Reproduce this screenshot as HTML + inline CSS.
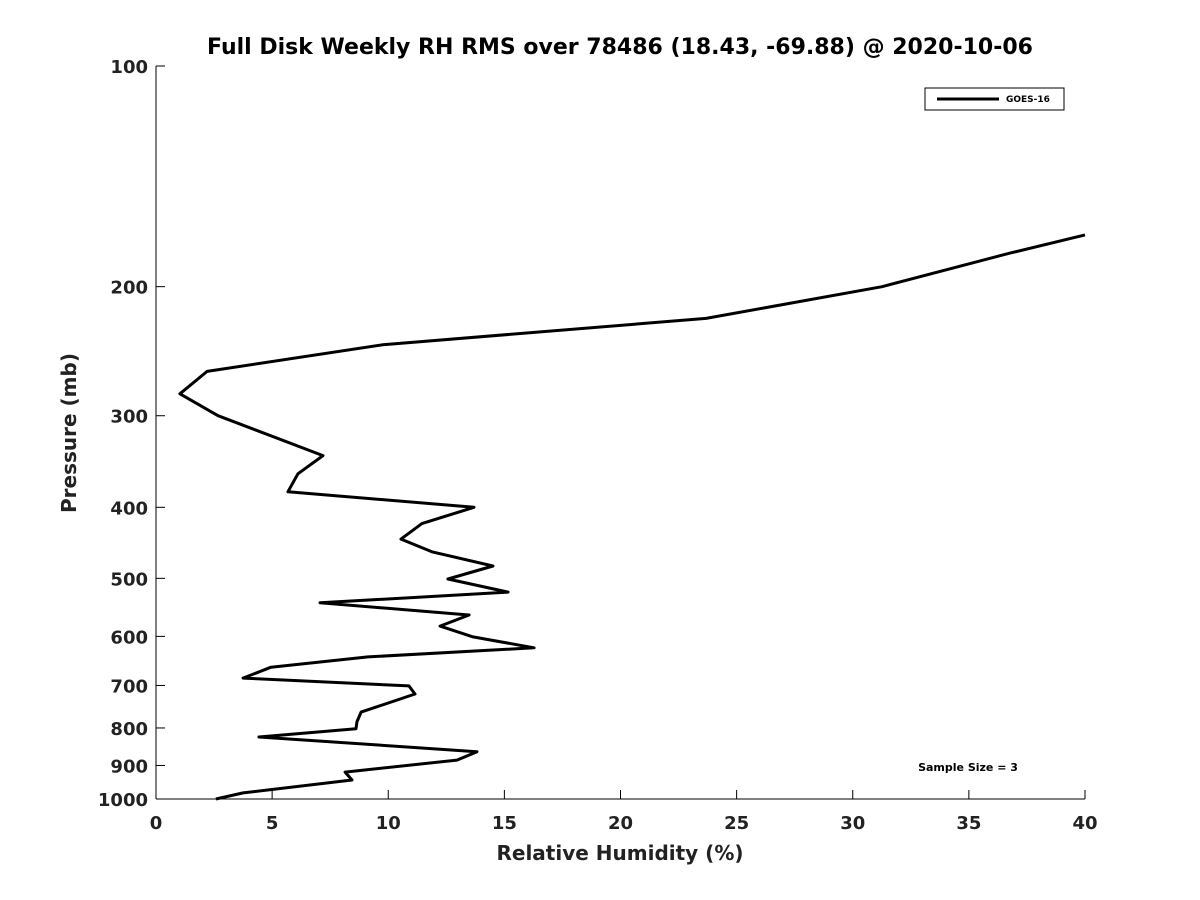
<!DOCTYPE html>
<html><head><meta charset="utf-8"><style>
body{margin:0;background:#fff;}
svg{display:block;font-family:"DejaVu Sans","Liberation Sans",sans-serif;}
</style></head><body>
<svg id="chart" width="1200" height="900">
<rect width="1200" height="900" fill="#fff"/>
<text x="620" y="54" text-anchor="middle" font-size="22" font-weight="bold" fill="#000">Full Disk Weekly RH RMS over 78486 (18.43, -69.88) @ 2020-10-06</text>
<g id="axes"></g>
<path id="series" fill="none" stroke="#000" stroke-width="3" stroke-linejoin="round"/>
<g>
<rect x="925" y="88" width="139" height="22" fill="#fff" stroke="#000" stroke-width="1"/>
<line x1="937" y1="99" x2="999" y2="99" stroke="#000" stroke-width="3"/>
<text x="1006" y="102" font-size="9" font-weight="bold">GOES-16</text>
</g>
<text x="968" y="771" text-anchor="middle" font-size="11" font-weight="bold">Sample Size = 3</text>
<text x="620" y="860" text-anchor="middle" font-size="20" font-weight="bold" fill="#222">Relative Humidity (%)</text>
<text transform="translate(76,433) rotate(-90)" text-anchor="middle" font-size="20" font-weight="bold" fill="#222">Pressure (mb)</text>
</svg>
<script>
const rhValues=[40,36.77,31.26,23.68,9.77,2.2,1.03,2.67,7.19,6.11,5.68,13.69,11.45,10.55,11.88,14.51,12.57,15.16,7.06,13.48,12.23,13.65,16.28,9.13,4.95,3.75,10.89,11.15,8.83,8.65,8.61,4.43,13.82,12.96,8.14,8.44,3.75,2.58];
const pressures=[170,180,200,221,240,261,280,300,340,360,381,400,421,442,460,481,501,522,540,561,581,601,622,640,661,684,701,719,761,785,802,823,862,885,919,942,981,1000];
const xTicks=[0,5,10,15,20,25,30,35,40];
const yTicks=[100,200,300,400,500,600,700,800,900,1000];
const X0=156,X1=1085,Y0=66,Y1=799;
const xs=v=>X0+(v-0)/40*(X1-X0);
const ys=p=>Y0+(Math.log10(p)-2)*(Y1-Y0);
const NS="http://www.w3.org/2000/svg";
const ax=document.getElementById('axes');
function mk(t,a){const e=document.createElementNS(NS,t);for(const k in a)e.setAttribute(k,a[k]);ax.appendChild(e);return e;}
const yl=mk('line',{x1:X0,y1:Y0,x2:X0,y2:Y1,stroke:'#000','stroke-width':1});


const xl=mk('line',{x1:X0,y1:Y1,x2:X1,y2:Y1,stroke:'#000','stroke-width':1});


xTicks.forEach(v=>{const x=xs(v);
mk('line',{x1:x,y1:Y1,x2:x,y2:Y1-9,stroke:'#000'});
const t=mk('text',{x:x,y:Y1+30,'text-anchor':'middle','font-size':18,'font-weight':'bold',fill:'#222'});t.textContent=v;

});
yTicks.forEach(p=>{const y=ys(p);
mk('line',{x1:X0,y1:y,x2:X0+9,y2:y,stroke:'#000'});
const t=mk('text',{x:X0-8,y:y+7,'text-anchor':'end','font-size':18,'font-weight':'bold',fill:'#222'});t.textContent=p;

});
document.getElementById('series').setAttribute('d',rhValues.map((v,i)=>(i?'L':'M')+xs(v).toFixed(1)+','+ys(pressures[i]).toFixed(1)).join(' '));
</script>
</body></html>
